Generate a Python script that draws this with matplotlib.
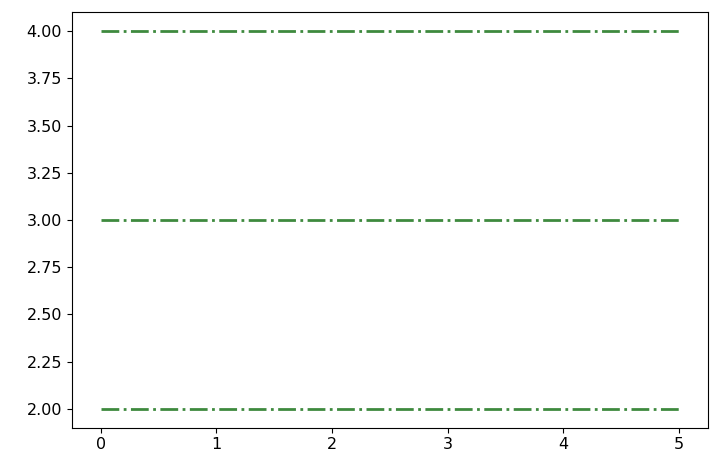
import matplotlib
matplotlib.use("Agg")
import matplotlib.pyplot as plt

y_levels = [2, 3, 4]
x_start = 0
x_end = 5

fig = plt.figure(figsize=(7.2, 4.72), dpi=100)
ax = fig.add_axes([0.0996, 0.094, 0.8834, 0.88])
ax.hlines(y=y_levels, xmin=x_start, xmax=x_end, colors='#3e8a3e', linestyles='dashdot', linewidth=2)
ax.tick_params(labelsize=11.5)
fig.savefig("out.png")
